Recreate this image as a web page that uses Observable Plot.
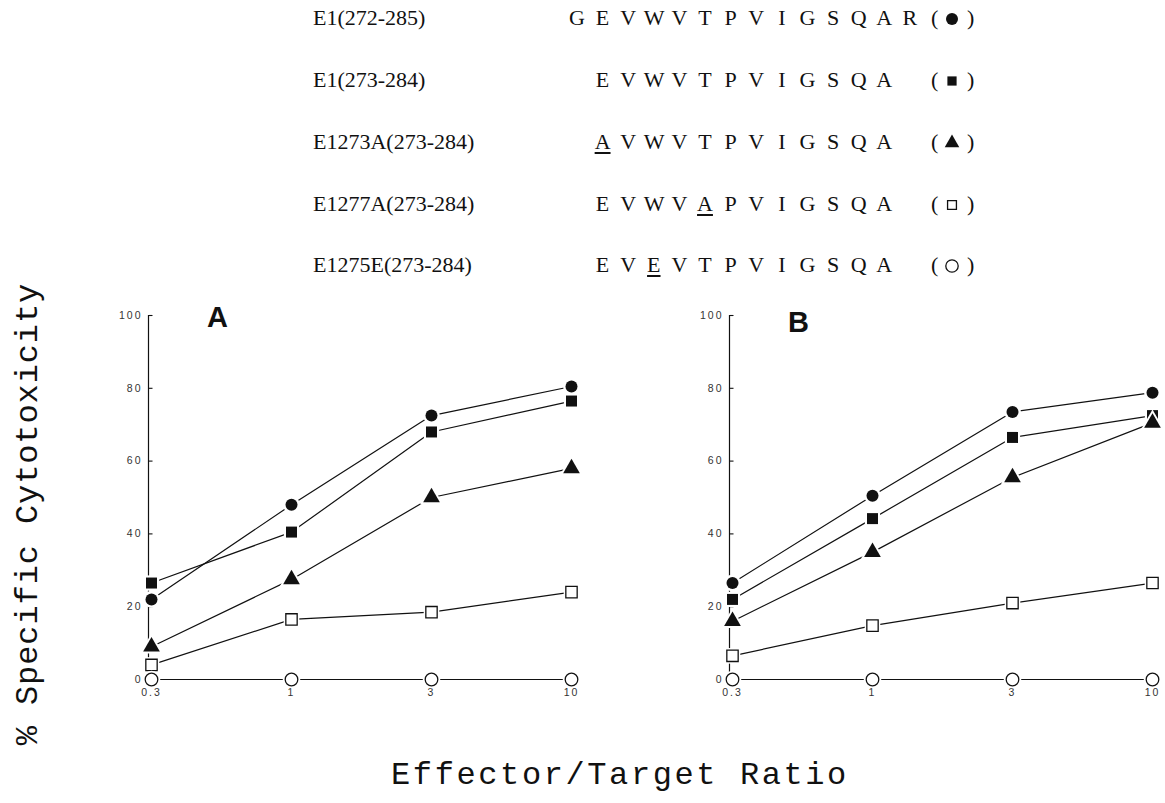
<!DOCTYPE html>
<html><head><meta charset="utf-8">
<script src="https://cdn.jsdelivr.net/npm/d3@7"></script>
<script src="https://cdn.jsdelivr.net/npm/@observablehq/plot@0.6"></script>
<style>
  html,body{margin:0;padding:0;background:#fff;}
  #root{position:relative;width:1165px;height:803px;overflow:hidden;background:#fff;}
  .abs{position:absolute;white-space:nowrap;color:#111;}
  .serif{font-family:"Liberation Serif","Times New Roman",serif;font-size:22px;line-height:22px;}
  .mono{font-family:"Liberation Mono","Courier New",monospace;font-size:32px;line-height:32px;color:#111;}
  .panelLetter{font-family:"Liberation Sans",Arial,sans-serif;font-weight:bold;font-size:29px;line-height:29px;}
  .panel svg{overflow:visible;}
  .panel svg text{letter-spacing:2px;}
  .u{text-decoration:underline;text-underline-offset:3px;text-decoration-thickness:1.5px;}
</style></head>
<body><div id="root"></div>
<script>
// ---------- data ----------
const ratios = [0.3, 1, 3, 10];
const yTicks = [0, 20, 40, 60, 80, 100];
const seriesKeys = ["circleFilled", "squareFilled", "triangleFilled", "squareOpen", "circleOpen"];

const peptideNames = ["E1(272-285)", "E1(273-284)", "E1273A(273-284)", "E1277A(273-284)", "E1275E(273-284)"];
const peptideSeqs  = ["GEVWVTPVIGSQAR", "EVWVTPVIGSQA", "AVWVTPVIGSQA", "EVWVAPVIGSQA", "EVEVTPVIGSQA"];
const seqStartCol  = [0, 1, 1, 1, 1];
const underlineIdx = [-1, -1, 0, 4, 2];

// Panel A values (% specific cytotoxicity), per series in seriesKeys order
const aCircleFilled   = [22, 48, 72.5, 80.5];
const aSquareFilled   = [26.5, 40.5, 68, 76.5];
const aTriangleFilled = [9, 27.5, 50, 58];
const aSquareOpen     = [4, 16.5, 18.5, 24];
const aCircleOpen     = [0, 0, 0, 0];

// Panel B values
const bCircleFilled   = [26.5, 50.5, 73.5, 78.8];
const bSquareFilled   = [22, 44.2, 66.5, 72.5];
const bTriangleFilled = [16, 35, 55.5, 70.5];
const bSquareOpen     = [6.5, 14.8, 21, 26.5];
const bCircleOpen     = [0, 0, 0, 0];

// ---------- styling of series ----------
const symStyle = {
  circleFilled:   {symbol: "circle",   r: 6.0, fill: "#111", stroke: "none"},
  squareFilled:   {symbol: "square",   r: 6.2, fill: "#111", stroke: "none"},
  triangleFilled: {symbol: "triangle", r: 6.2, fill: "#111", stroke: "none"},
  squareOpen:     {symbol: "square",   r: 6.4, fill: "white", stroke: "#111"},
  circleOpen:     {symbol: "circle",   r: 6.3, fill: "white", stroke: "#111"}
};

const root = document.getElementById("root");
function addDiv(cls, html, css) {
  const d = document.createElement("div");
  d.className = "abs " + cls;
  d.innerHTML = html;
  Object.assign(d.style, css);
  root.appendChild(d);
  return d;
}

// ---------- legend ----------
const rowY = [18, 80, 142, 204, 265];
const seqX0 = 577, seqPitch = 25.6;
peptideNames.forEach((name, i) => {
  addDiv("serif", name, {left: "313px", top: (rowY[i] - 11) + "px"});
  const seq = peptideSeqs[i];
  for (let k = 0; k < seq.length; k++) {
    const col = seqStartCol[i] + k;
    const cls = "serif" + (k === underlineIdx[i] ? " u" : "");
    addDiv(cls, seq[k], {left: (seqX0 + col * seqPitch - 10) + "px", top: (rowY[i] - 11) + "px", width: "20px", textAlign: "center"});
  }
  addDiv("serif", "(", {left: "931px", top: (rowY[i] - 11) + "px"});
  addDiv("serif", ")", {left: "967px", top: (rowY[i] - 11) + "px"});
  const st = symStyle[seriesKeys[i]];
  const svg = d3.create("svg").attr("width", 24).attr("height", 24)
    .style("position", "absolute").style("left", "940px").style("top", (rowY[i] - 11) + "px");
  const legendSize = {circleFilled: 6.0, squareFilled: 5.2, triangleFilled: 5.4, squareOpen: 5.0, circleOpen: 6.2};
  const rr = legendSize[seriesKeys[i]];
  const sym = {circle: d3.symbolCircle, square: d3.symbolSquare, triangle: d3.symbolTriangle}[st.symbol];
  svg.append("path").attr("transform", "translate(12,12)")
    .attr("d", d3.symbol(sym, Math.PI * rr * rr)())
    .attr("fill", st.fill).attr("stroke", st.stroke).attr("stroke-width", 1.3);
  root.appendChild(svg.node());
});

// ---------- panels ----------
function makePanel(vals, cfg) {
  const data = [];
  seriesKeys.forEach((k, i) => ratios.forEach((r, j) => data.push({series: k, x: r, y: vals[i][j]})));
  const tickSym = {draw(ctx) { ctx.moveTo(0, 0); ctx.lineTo(4, 0); }};
  const marks = [
    Plot.frame({anchor: "left", stroke: "#111", strokeWidth: 1.2}),
    Plot.dot(yTicks, {y: d => d, frameAnchor: "left", symbol: tickSym, stroke: "#111", strokeWidth: 1.1, fill: "none"}),
    Plot.axisY({ticks: yTicks, tickSize: 0, tickPadding: 6, fontSize: 10.5, fill: "#333", label: null}),
    Plot.axisX({tickSize: 0, tickPadding: 9, fontSize: 10.5, fill: "#333", label: null, tickFormat: d => String(d)}),
    Plot.line(data, {x: "x", y: "y", z: "series", stroke: "#111", strokeWidth: 1.2})
  ];
  seriesKeys.forEach(k => {
    const st = symStyle[k];
    const sub = data.filter(d => d.series === k);
    marks.push(Plot.dot(sub, {x: "x", y: "y", symbol: st.symbol, r: st.r + 2.4, fill: "white", stroke: "none"}));
    marks.push(Plot.dot(sub, {x: "x", y: "y", symbol: st.symbol, r: st.r, fill: st.fill, stroke: st.stroke, strokeWidth: 1.3}));
  });
  const chart = Plot.plot({
    width: cfg.width, height: 420,
    marginLeft: 50, marginRight: cfg.marginRight, marginTop: 25, marginBottom: 31,
    x: {type: "point", domain: ratios, padding: 0, insetLeft: cfg.inset},
    y: {domain: [0, 100]},
    style: {background: "transparent", fontFamily: "'Liberation Sans', Arial, sans-serif"},
    marks
  });
  const holder = addDiv("panel", "", {left: cfg.left + "px", top: "290px"});
  holder.appendChild(chart);
}

makePanel([aCircleFilled, aSquareFilled, aTriangleFilled, aSquareOpen, aCircleOpen],
  {left: 98, width: 500, marginRight: 26, inset: 2});
makePanel([bCircleFilled, bSquareFilled, bTriangleFilled, bSquareOpen, bCircleOpen],
  {left: 679, width: 486, marginRight: 13, inset: 3});

addDiv("panelLetter", "A", {left: "207px", top: "303px"});
addDiv("panelLetter", "B", {left: "788px", top: "308px"});

// ---------- axis titles ----------
addDiv("mono", "% Specific Cytotoxicity", {left: "29px", top: "514px", letterSpacing: "0.9px", transform: "translate(-50%,-50%) rotate(-90deg)"});
addDiv("mono", "Effector/Target Ratio", {left: "620px", top: "776px", letterSpacing: "2.6px", transform: "translate(-50%,-50%)"});
</script>
</body></html>
